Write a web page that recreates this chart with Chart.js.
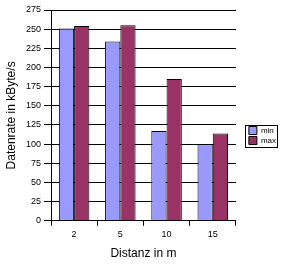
<!DOCTYPE html>
<html><head><meta charset="utf-8">
<script src="https://cdn.jsdelivr.net/npm/chart.js@4/dist/chart.umd.min.js"></script>
<style>html,body{margin:0;padding:0;background:#fff;}canvas{display:block;}</style>
</head><body>
<canvas id="c" width="283" height="265"></canvas>
<script>
const categories = ["2", "5", "10", "15"];
const minValues = [251, 234, 117, 100];
const maxValues = [254, 255, 185, 114];
const seriesNames = ["min", "max"];
const yTitle = "Datenrate in kByte/s";
const xTitle = "Distanz in m";

const FONT = 'Liberation Sans, Arial, sans-serif';

const legendTweak = {
  id: 'legendTweak',
  afterLayout(chart) {
    const l = chart.legend;
    if (!l) return;
    const shift = 11;
    l.left += shift;
    l.right += shift;
  },
  afterDraw(chart) {
    const l = chart.legend;
    if (!l || !l.legendHitBoxes || !l.legendHitBoxes.length) return;
    const ctx = chart.ctx;
    let x0 = Infinity, y0 = Infinity, x1 = -Infinity, y1 = -Infinity;
    l.legendHitBoxes.forEach(h => {
      x0 = Math.min(x0, h.left); y0 = Math.min(y0, h.top);
      x1 = Math.max(x1, h.left + h.width); y1 = Math.max(y1, h.top + h.height);
    });
    ctx.save();
    ctx.strokeStyle = '#000';
    ctx.lineWidth = 1;
    const L = Math.round(x0 - 4) + 0.5, T = Math.round(y0 - 2) + 0.5;
    const R = Math.round(x1 + 1) + 0.5, B = Math.round(y1 + 2) + 0.5;
    ctx.strokeRect(L, T, R - L, B - T);
    ctx.restore();
  }
};

new Chart(document.getElementById('c'), {
  type: 'bar',
  data: {
    labels: categories,
    datasets: [
      {label: seriesNames[0], data: minValues, backgroundColor: '#9999FF', borderColor: '#000', borderWidth: 1},
      {label: seriesNames[1], data: maxValues, backgroundColor: '#993366', borderColor: '#000', borderWidth: 1}
    ]
  },
  options: {
    responsive: false,
    animation: false,
    layout: {padding: {top: 10, right: 8, bottom: 4, left: 2}},
    datasets: {bar: {categoryPercentage: 0.66, barPercentage: 1.0}},
    plugins: {
      legend: {
        position: 'right',
        labels: {boxWidth: 8, boxHeight: 8, padding: 2, color: '#000', font: {family: FONT, size: 8}},
      },
      tooltip: {enabled: false}
    },
    scales: {
      x: {
        grid: {display: true, drawOnChartArea: false, drawTicks: true, tickLength: 5, color: '#000', offset: true},
        border: {color: '#000', width: 1},
        ticks: {color: '#000', font: {family: FONT, size: 9}, padding: 3},
        title: {display: true, text: xTitle, color: '#000', font: {family: FONT, size: 12}, padding: {top: 4, bottom: 0}}
      },
      y: {
        min: 0, max: 275,
        afterFit(scale) { scale.width = 49; },
        ticks: {stepSize: 25, color: '#000', font: {family: FONT, size: 9}, padding: 3},
        grid: {color: '#000', lineWidth: 1, tickLength: 7, drawTicks: true},
        border: {color: '#000', width: 1},
        title: {display: true, text: yTitle, color: '#000', font: {family: FONT, size: 12}, padding: {top: 2, bottom: 4}}
      }
    }
  },
  plugins: [legendTweak]
});
</script>
</body></html>
